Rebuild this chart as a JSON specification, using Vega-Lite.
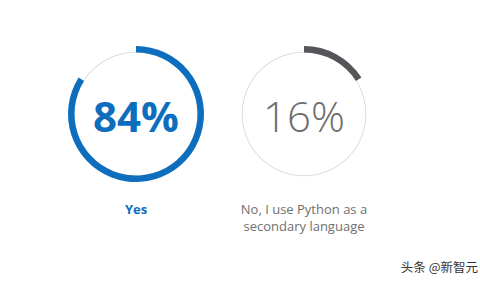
{
  "$schema": "https://vega.github.io/schema/vega-lite/v6.json",
  "width": 480,
  "height": 282,
  "padding": 0,
  "autosize": "none",
  "background": "white",
  "config": {"view": {"stroke": null}},
  "datasets": {
    "rings": [
      {"answer": "Yes", "pct": 84, "label": "84%"},
      {"answer": "No", "pct": 16, "label": "16%"}
    ],
    "captions": [
      {"answer": "Yes", "caption": "Yes"},
      {"answer": "No", "caption": "No, I use Python as a\nsecondary language"}
    ],
    "credit": [
      {"answer": "credit", "caption": "头条 @新智元"}
    ]
  },
  "encoding": {
    "x": {"field": "answer", "type": "nominal", "axis": null, "scale": {"type": "point", "domain": ["Yes", "No", "credit"], "range": [136, 472], "padding": 0}}
  },
  "layer": [
    {
      "data": {"name": "rings"},
      "mark": {"type": "arc", "radius": 62.3, "radius2": 61.5, "color": "#d4d4d4"},
      "encoding": {
        "y": {"datum": "ring", "type": "nominal", "axis": null, "scale": {"type": "point", "domain": ["ring", "label", "credit"], "range": [114, 268], "padding": 0}},
        "theta": {"datum": 100, "type": "quantitative", "scale": {"domain": [0, 100], "range": [0, 6.283185]}},
        "theta2": {"datum": 0}
      }
    },
    {
      "data": {"name": "rings"},
      "mark": {"type": "arc", "radius": 68, "radius2": 61.5},
      "encoding": {
        "y": {"datum": "ring", "type": "nominal"},
        "theta": {"field": "pct", "type": "quantitative", "stack": null},
        "theta2": {"datum": 0},
        "color": {"field": "answer", "type": "nominal", "legend": null, "scale": {"domain": ["Yes", "No"], "range": ["#0d6ebe", "#55565a"]}}
      }
    },
    {
      "data": {"name": "rings"},
      "transform": [{"filter": "datum.answer === 'Yes'"}],
      "mark": {"type": "text", "font": "Open Sans", "fontWeight": 700, "fontSize": 42, "baseline": "alphabetic", "dy": 18, "color": "#0d6ebe"},
      "encoding": {"y": {"datum": "ring", "type": "nominal"}, "text": {"field": "label"}}
    },
    {
      "data": {"name": "rings"},
      "transform": [{"filter": "datum.answer === 'No'"}],
      "mark": {"type": "text", "font": "Open Sans", "fontWeight": 300, "fontSize": 42, "baseline": "alphabetic", "dy": 18, "color": "#6d6e70"},
      "encoding": {"y": {"datum": "ring", "type": "nominal"}, "text": {"field": "label"}}
    },
    {
      "data": {"name": "captions"},
      "transform": [{"filter": "datum.answer === 'Yes'"}],
      "mark": {"type": "text", "font": "Open Sans", "fontWeight": 700, "fontSize": 13, "baseline": "middle", "dy": 18.5, "color": "#0d6ebe"},
      "encoding": {"y": {"datum": "label", "type": "nominal"}, "text": {"field": "caption"}}
    },
    {
      "data": {"name": "captions"},
      "transform": [{"filter": "datum.answer === 'No'"}],
      "mark": {"type": "text", "font": "Open Sans", "fontWeight": 400, "fontSize": 13, "baseline": "middle", "dy": 18.5, "lineBreak": "\n", "lineHeight": 17, "color": "#707070"},
      "encoding": {"y": {"datum": "label", "type": "nominal"}, "text": {"field": "caption"}}
    },
    {
      "data": {"name": "credit"},
      "mark": {"type": "text", "font": "Noto Sans CJK SC", "fontSize": 12.5, "align": "right", "baseline": "middle", "dx": 6, "color": "#333333"},
      "encoding": {"y": {"datum": "credit", "type": "nominal"}, "text": {"field": "caption"}}
    }
  ]
}
